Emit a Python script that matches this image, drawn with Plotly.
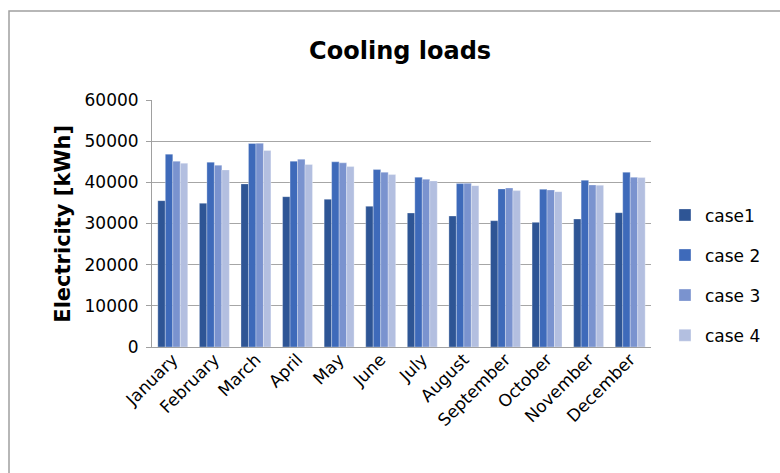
import plotly.graph_objects as go

months = ["January", "February", "March", "April", "May", "June", "July",
          "August", "September", "October", "November", "December"]
case1 = [35550, 34920, 39620, 36520, 35890, 34180, 32550, 31820, 30680, 30290, 31090, 32630]
case2 = [46850, 44900, 49430, 45140, 44970, 43100, 41250, 39690, 38400, 38320, 40510, 42460]
case3 = [45140, 44170, 49500, 45630, 44730, 42460, 40760, 39770, 38640, 38150, 39370, 41250]
case4 = [44650, 43020, 47720, 44320, 43830, 41880, 40350, 39200, 37990, 37740, 39290, 41150]
series_names = ["case1", "case 2", "case 3", "case 4"]
colors = ["#2E5595", "#3E6ABA", "#7A93CF", "#B3BFE0"]

FONT = "DejaVu Sans"
fig = go.Figure()
for i, (name, vals) in enumerate(zip(series_names, [case1, case2, case3, case4])):
    fig.add_trace(go.Bar(
        x=months, y=vals, name=name, legendgroup=name,
        marker=dict(color=colors[i], line=dict(color="rgba(255,255,255,0.6)", width=0.5)),
    ))

fig.update_layout(
    width=780, height=473,
    paper_bgcolor="white", plot_bgcolor="white",
    margin=dict(l=152, r=129, t=100, b=126, autoexpand=False),
    barmode="group", bargap=0.28, bargroupgap=0,
    font=dict(family=FONT, color="#000000", size=17),
    title=dict(text="<b>Cooling loads</b>", x=0.513, xanchor="center", y=0.893, yanchor="middle",
               font=dict(family=FONT, size=24, color="#000000")),
    showlegend=True,
    legend=dict(x=1.028, xanchor="left", y=0.29, yanchor="middle",
                font=dict(family=FONT, size=17, color="#000000"),
                tracegroupgap=15, itemwidth=30, bgcolor="rgba(0,0,0,0)"),
    xaxis=dict(tickangle=-45, showline=True, linecolor="#A0A0A0", linewidth=1,
               ticks="", tickfont=dict(family=FONT, size=17, color="#000000"),
               showgrid=False, automargin=False, ticklabelstandoff=-5),
    yaxis=dict(range=[0, 60000], dtick=10000, showgrid=True, gridcolor="#A6A6A6", gridwidth=1,
               showline=True, linecolor="#A0A0A0", linewidth=1, ticks="outside", ticklen=5,
               tickcolor="#A0A0A0", tickformat="d", automargin=False, ticklabelstandoff=4,
               tickfont=dict(family=FONT, size=17, color="#000000"), zeroline=False),
    annotations=[dict(text="<b>Electricity [kWh]</b>", textangle=-90, x=-0.18, xref="paper",
                      y=0.5, yref="paper", xanchor="center", yanchor="middle", showarrow=False,
                      font=dict(family=FONT, size=21, color="#000000"))],
    shapes=[dict(type="rect", xref="paper", yref="paper",
                 x0=(9 - 152) / 499, x1=(800 - 152) / 499,
                 y0=(347 - 490) / 247, y1=(347 - 11) / 247,
                 line=dict(color="#A0A0A0", width=1.5), layer="below")],
)

fig.write_html("out.html", config={"displayModeBar": False},
               post_script="document.body.style.margin='0';")
